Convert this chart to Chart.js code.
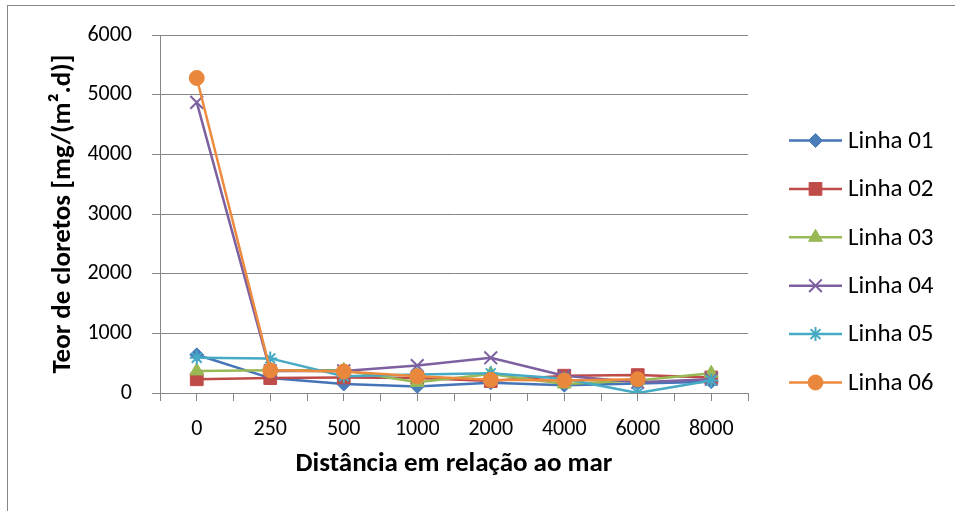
<!DOCTYPE html>
<html>
<head>
<meta charset="utf-8">
<script src="https://cdn.jsdelivr.net/npm/chart.js@4"></script>
<style>
  html, body { margin: 0; padding: 0; background: #fff; overflow: hidden; }
  #frame {
    position: absolute; left: 7px; top: 5px; width: 980px; height: 540px;
    border: 1px solid #868686; box-sizing: border-box;
  }
  #wrap { position: absolute; left: 0; top: 0; width: 955px; height: 511px; }
</style>
</head>
<body>
<div id="frame"></div>
<div id="wrap"><canvas id="chart" width="955" height="511"></canvas></div>
<script>
const FONT = "Calibri, Carlito, Lato, sans-serif";

// distances (m)
const categories = ["0", "250", "500", "1000", "2000", "4000", "6000", "8000"];

// chloride deposition, mg/(m².d)
const linha01 = [640, 250, 150, 110, 170, 130, 160, 190];
const linha02 = [230, 250, 260, 250, 200, 290, 300, 260];
const linha03 = [370, 380, 380, 180, 320, 150, 210, 330];
const linha04 = [4870, 370, 370, 460, 590, 290, 180, 230];
const linha05 = [590, 580, 280, 310, 330, 240, 0, 210];
const linha06 = [5280, 380, 360, 280, 220, 210, 230, null];

const yTicks = [0, 1000, 2000, 3000, 4000, 5000, 6000];

const seriesNames = ["Linha 01", "Linha 02", "Linha 03", "Linha 04", "Linha 05", "Linha 06"];
const seriesData = [linha01, linha02, linha03, linha04, linha05, linha06];
const lineColors = ["#4674B8", "#BE4B48", "#98B954", "#7D60A0", "#46AAC5", "#EC8A3E"];
const markerColors = ["#4A7EBB", "#BE4B48", "#98B954", "#7D60A0", "#46AAC5", "#E9883C"];
const markerStyles = ["rectRot", "rect", "triangle", "crossRot", "star", "circle"];
const markerSizes = [7, 9, 8, 9, 7, 7.5];

const datasets = seriesNames.map((name, i) => ({
  label: name,
  data: seriesData[i],
  borderColor: lineColors[i],
  borderWidth: 2.5,
  backgroundColor: markerColors[i],
  pointStyle: markerStyles[i],
  pointRadius: markerSizes[i],
  pointBackgroundColor: markerColors[i],
  pointBorderColor: markerColors[i],
  pointBorderWidth: (markerStyles[i] === "crossRot" || markerStyles[i] === "star") ? 2 : 1,
  tension: 0,
  spanGaps: false,
  order: seriesNames.length - i   // Linha 06 on top, as in the original
}));

// legend on the right: line sample with the marker in the middle
const sideLegend = {
  id: "sideLegend",
  afterDraw(chart) {
    const ctx = chart.ctx;
    const x0 = 789, x1 = 842, top = 140.5, step = 48.4;
    ctx.save();
    datasets.forEach((ds, i) => {
      const y = top + i * step;
      ctx.strokeStyle = ds.borderColor;
      ctx.lineWidth = 2.5;
      ctx.beginPath();
      ctx.moveTo(x0, y);
      ctx.lineTo(x1, y);
      ctx.stroke();
      ctx.fillStyle = ds.pointBackgroundColor;
      ctx.strokeStyle = ds.pointBorderColor;
      ctx.lineWidth = ds.pointBorderWidth;
      Chart.helpers.drawPoint(ctx, {
        pointStyle: ds.pointStyle, radius: ds.pointRadius, rotation: 0, borderWidth: ds.pointBorderWidth
      }, (x0 + x1) / 2, y);
      ctx.fillStyle = "#000";
      ctx.font = "25px " + FONT;
      ctx.textBaseline = "middle";
      ctx.textAlign = "left";
      ctx.fillText(ds.label, 848, y + 1);
    });
    ctx.restore();
  }
};

new Chart(document.getElementById("chart").getContext("2d"), {
  type: "line",
  data: { labels: categories, datasets },
  plugins: [sideLegend],
  options: {
    responsive: false,
    animation: false,
    layout: { padding: { left: 47, right: 207, top: 35, bottom: 31 } },
    plugins: {
      legend: { display: false },
      tooltip: { enabled: false }
    },
    scales: {
      // tick marks at the category centres (Excel draws them between and on categories)
      x2: {
        position: "bottom",
        weight: 0,
        offset: true,
        grid: {
          display: true, drawOnChartArea: false, drawTicks: true,
          tickLength: 8, color: "#868686", offset: false
        },
        border: { display: false },
        ticks: { display: false },
        afterFit(scale) { scale.height = 0; }
      },
      x: {
        position: "bottom",
        weight: 1,
        offset: true,
        grid: {
          display: true, drawOnChartArea: false, drawTicks: true,
          tickLength: 8, color: "#868686", offset: true
        },
        border: { color: "#868686", width: 1 },
        ticks: { color: "#000", font: { family: FONT, size: 22 }, padding: 15, maxRotation: 0 },
        title: {
          display: true, text: "Distância em relação ao mar", color: "#000",
          font: { family: FONT, size: 27, weight: "bold" }, padding: 0
        },
        afterFit(scale) { scale.height = 87; }
      },
      y: {
        min: 0, max: 6000,
        afterBuildTicks(scale) { scale.ticks = yTicks.map((v) => ({ value: v })); },
        grid: { color: "#868686", tickLength: 8, drawTicks: true },
        border: { color: "#868686", width: 1 },
        ticks: {
          color: "#000", font: { family: FONT, size: 22 }, padding: 20,
          callback: (v) => String(v)
        },
        title: {
          display: true, text: "Teor de cloretos [mg/(m².d)]", color: "#000",
          font: { family: FONT, size: 27, weight: "bold" }, padding: 0
        },
        afterFit(scale) { scale.width = 113; }
      }
    }
  }
});
</script>
</body>
</html>
